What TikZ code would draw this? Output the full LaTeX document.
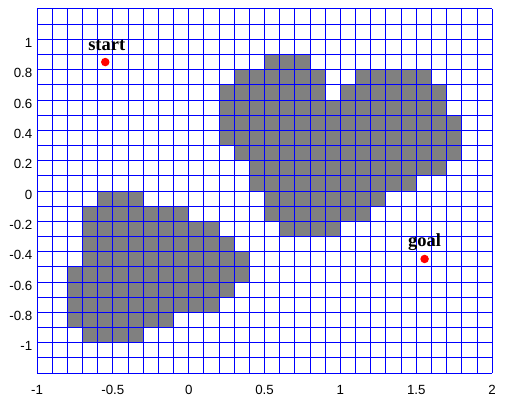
\documentclass[tikz,border=0pt]{standalone}
\usepackage{fontspec}
\setmainfont{Liberation Serif}
\newfontfamily\ticksfont{Liberation Sans}
\usetikzlibrary{calc}
\definecolor{obst}{RGB}{128,128,128}
\definecolor{gridblue}{RGB}{0,0,255}
\begin{document}
\begin{tikzpicture}[x=151.7pt,y=151.7pt,
  cell/.style={fill=obst, draw=none},
  gridline/.style={draw=gridblue, line width=0.9pt},
  ticklab/.style={font=\ticksfont\fontsize{13.3}{16}\selectfont, inner sep=0pt},
  pointdot/.style={circle, fill=red, draw=none, minimum size=8.5pt, inner sep=0pt},
  flaglab/.style={font=\fontsize{18.5}{20}\selectfont\bfseries, inner sep=0pt, anchor=base}]
\useasboundingbox (-1.2439,-1.4041) rectangle (2.1048,1.2591);
\fill[white] (-1.2439,-1.4041) rectangle (2.1048,1.2591);
% obstacle cells: bottom y / left x / right x of each row run
\foreach \yb/\xa/\xb in {
  0.8/0.5/0.8, 0.7/0.3/0.9, 0.7/1.1/1.6, 0.6/0.2/0.9, 0.6/1.0/1.7,
  0.5/0.2/1.7, 0.4/0.2/1.8, 0.3/0.2/1.8, 0.2/0.3/1.8, 0.1/0.4/1.7,
  0.0/0.4/1.5, -0.1/0.5/1.3, -0.2/0.5/1.2, -0.3/0.6/1.0,
  -0.1/-0.6/-0.3, -0.2/-0.7/0.0, -0.3/-0.7/0.2, -0.4/-0.7/0.3,
  -0.5/-0.7/0.4, -0.6/-0.8/0.4, -0.7/-0.8/0.3, -0.8/-0.8/0.2,
  -0.9/-0.8/-0.1, -1.0/-0.7/-0.3}
  \fill[cell] (\xa,\yb) rectangle (\xb,{\yb+0.1});
% grid
\foreach \i in {0,...,30}
  \draw[gridline] ({-1+0.1*\i},-1.2) -- ({-1+0.1*\i},1.2);
\foreach \j in {0,...,24}
  \draw[gridline] (-1,{-1.2+0.1*\j}) -- (2,{-1.2+0.1*\j});
% tick labels
\foreach \v [count=\k] in {1,0.8,0.6,0.4,0.2,0,-0.2,-0.4,-0.6,-0.8,-1}
  \node[ticklab, anchor=east] (ytick\k) at (-1.03,{\v-0.023}) {\v};
\foreach \v [count=\k] in {-1,-0.5,0,0.5,1,1.5,2}
  \node[ticklab] (xtick\k) at (\v,-1.309) {\v};
% start and goal
\node[pointdot] (start) at (-0.55,0.85) {};
\node[pointdot] (goal) at (1.555,-0.448) {};
\node[flaglab] (startlabel) at ($(start)+(0.01,0.077)$) {start};
\node[flaglab] (goallabel) at ($(goal)+(0,0.079)$) {goal};
\end{tikzpicture}
\end{document}
